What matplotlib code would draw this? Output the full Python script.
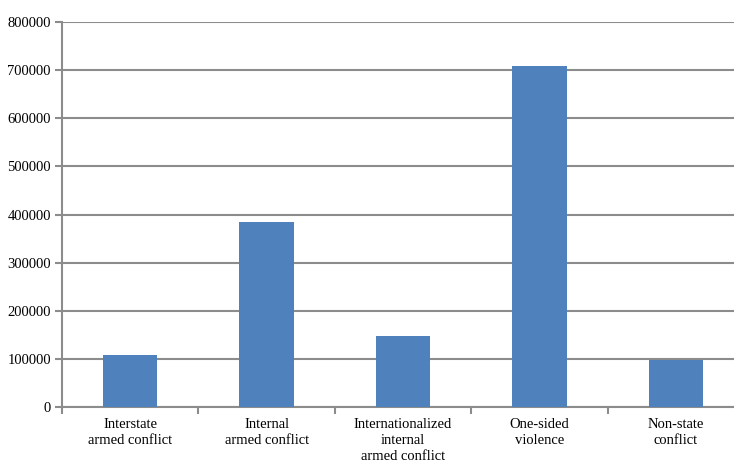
import matplotlib
matplotlib.use('Agg')
import matplotlib.pyplot as plt
import numpy as np

# ---- data ----
categories = ['Interstate\narmed conflict', 'Internal\narmed conflict',
              'Internationalized\ninternal\narmed conflict',
              'One-sided\nviolence', 'Non-state\nconflict']
deaths = [108000, 385000, 148000, 709000, 97000]
yticks = [0, 100000, 200000, 300000, 400000, 500000, 600000, 700000, 800000]

plt.rcParams['font.family'] = ['Liberation Serif', 'DejaVu Serif']

fig = plt.figure(figsize=(7.34, 4.62), dpi=100)
ax = fig.add_axes([62/734, 1 - 407/462, (744 - 62)/734, (407 - 22)/462])

x = np.arange(len(categories))
ax.bar(x, deaths, width=0.4, color='#4F81BD', zorder=3)

ax.set_xlim(-0.5, len(categories) - 0.5)
ax.set_ylim(0, 800000)
ax.set_yticks(yticks)
ax.set_yticklabels([str(v) for v in yticks], fontsize=10.5)
ax.yaxis.grid(True, color='#8c8c8c', linewidth=1.5, zorder=0)

ax.set_xticks(x)
ax.set_xticklabels(categories, fontsize=10.5, linespacing=1.3)
ax.set_xticks(np.arange(-0.5, len(categories)), minor=True)
ax.tick_params(axis='x', which='major', length=0, pad=8)
ax.tick_params(axis='x', which='minor', length=5, width=1.5, color='#8c8c8c')
ax.tick_params(axis='y', length=5, width=1.5, color='#8c8c8c', pad=3)

for s in ['top', 'right']:
    ax.spines[s].set_visible(False)
for s in ['left', 'bottom']:
    ax.spines[s].set_color('#8c8c8c')
    ax.spines[s].set_linewidth(1.5)

fig.savefig('out.png', dpi=100)
